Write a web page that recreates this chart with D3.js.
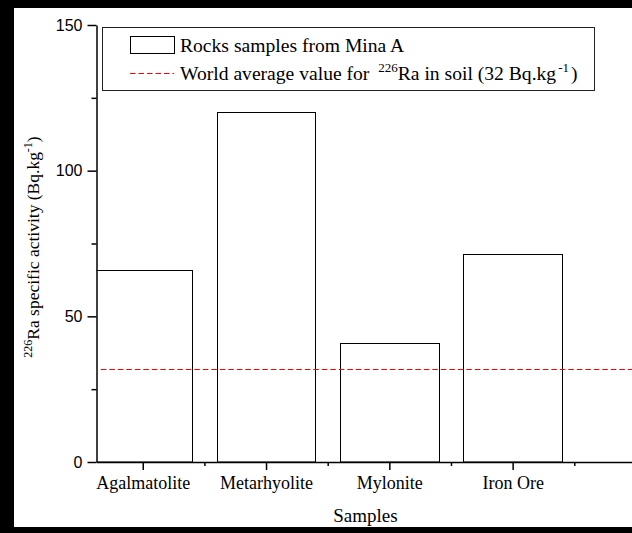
<!DOCTYPE html>
<html>
<head>
<meta charset="utf-8">
<script src="https://cdn.jsdelivr.net/npm/d3@7"></script>
<style>
  body { margin: 0; background: #fff; }
  svg { display: block; }
</style>
</head>
<body>
<svg id="chart" width="632" height="533"></svg>
<script>
// values
const categories = ["Agalmatolite", "Metarhyolite", "Mylonite", "Iron Ore"];
const activity = [66, 120, 41, 71.5];
const worldAverage = 32;
const yTicks = [0, 50, 100, 150];
const yMinorTicks = [25, 75, 125];
const xMinorTicks = [1.5, 2.5, 3.5, 4.5];

const SERIF = "'Liberation Serif', 'Times New Roman', serif";
const SANS = "'Liberation Sans', Arial, sans-serif";

const svg = d3.select("#chart");
const W = 632, H = 533;

svg.append("rect").attr("width", W).attr("height", H).attr("fill", "#fff");

// frame (right side is cut off in the original)
svg.append("rect").attr("x", 0).attr("y", 0).attr("width", 14).attr("height", H).attr("fill", "#000");
svg.append("rect").attr("x", 0).attr("y", 0).attr("width", W).attr("height", 8).attr("fill", "#000");
svg.append("rect").attr("x", 0).attr("y", 527).attr("width", W).attr("height", 6).attr("fill", "#000");

const x = d3.scaleLinear()
  .domain([0.625, 5.3])
  .range([96.5, 96.5 + (5.3 - 0.625) * 123.3]);

const y = d3.scaleLinear()
  .domain([0, 150])
  .range([462, 25]);

svg.append("clipPath").attr("id", "plot")
  .append("rect").attr("x", 96.5).attr("y", 0).attr("width", 700).attr("height", 470);

// bars
svg.append("g")
  .attr("clip-path", "url(#plot)")
  .selectAll("rect")
  .data(activity)
  .join("rect")
    .attr("x", (d, i) => Math.round(x(i + 1 - 0.4)) + 0.5)
    .attr("width", (d, i) => Math.round(x(i + 1 + 0.4)) - Math.round(x(i + 1 - 0.4)))
    .attr("y", d => Math.round(y(d)) + 0.5)
    .attr("height", d => y(0) - Math.round(y(d)) - 0.5)
    .attr("fill", "none")
    .attr("stroke", "#000")
    .attr("stroke-width", 1);

// world average line
svg.append("line")
  .attr("x1", x(0.66)).attr("x2", W)
  .attr("y1", Math.round(y(worldAverage)) + 0.5)
  .attr("y2", Math.round(y(worldAverage)) + 0.5)
  .style("stroke", "rgb(255,0,0)")
  .attr("stroke-width", 1.2)
  .attr("stroke-dasharray", "5.5,3");

// y axis
const yAxis = svg.append("g")
  .attr("transform", "translate(96.5,0)")
  .call(d3.axisLeft(y).tickValues(yTicks).tickSize(9).tickSizeOuter(0).tickPadding(5));
svg.append("g")
  .attr("transform", "translate(96.5,0)")
  .call(d3.axisLeft(y).tickValues(yMinorTicks).tickSize(5).tickFormat(""))
  .call(g => g.select(".domain").remove());

// x axis
const xAxis = svg.append("g")
  .attr("transform", "translate(0,462)")
  .call(d3.axisBottom(x).tickValues([1, 2, 3, 4]).tickSize(8).tickSizeOuter(0).tickPadding(6)
    .tickFormat(d => categories[d - 1]));
svg.append("g")
  .attr("transform", "translate(0,462)")
  .call(d3.axisBottom(x).tickValues(xMinorTicks).tickSize(4).tickFormat(""))
  .call(g => g.select(".domain").remove());

svg.selectAll(".domain, .tick line").attr("stroke", "#000").attr("stroke-width", 1.5);
yAxis.selectAll("text")
  .attr("font-family", SANS)
  .attr("font-size", 16)
  .attr("fill", "#000");
xAxis.selectAll("text")
  .attr("font-family", SERIF)
  .attr("font-size", 18)
  .attr("fill", "#000");

// axis titles
svg.append("text")
  .attr("font-family", SERIF)
  .attr("x", 365.5).attr("y", 522)
  .attr("text-anchor", "middle")
  .attr("font-size", 19)
  .text("Samples");

const yTitle = svg.append("text")
  .attr("font-family", SERIF)
  .attr("transform", "translate(39,247) rotate(-90)")
  .attr("text-anchor", "middle")
  .attr("font-size", 17.5);
yTitle.append("tspan").attr("font-size", 12).attr("dy", -7).text("226");
yTitle.append("tspan").attr("dy", 7).text("Ra specific activity (Bq.kg");
yTitle.append("tspan").attr("font-size", 12).attr("dy", -7).text("-1");
yTitle.append("tspan").attr("dy", 7).text(")");

// legend
const legend = svg.append("g");
legend.append("rect")
  .attr("x", 102.5).attr("y", 27.5).attr("width", 492).attr("height", 63)
  .attr("fill", "#fff").attr("stroke", "#222").attr("stroke-width", 1);
legend.append("rect")
  .attr("x", 130.5).attr("y", 36.5).attr("width", 44).attr("height", 17)
  .attr("fill", "none").attr("stroke", "#000").attr("stroke-width", 1);
legend.append("text")
  .attr("font-family", SERIF)
  .attr("x", 180).attr("y", 52)
  .attr("font-size", 19.6)
  .text("Rocks samples from Mina A");
legend.append("line")
  .attr("x1", 130).attr("x2", 174)
  .attr("y1", 73.5).attr("y2", 73.5)
  .style("stroke", "rgb(255,0,0)").attr("stroke-width", 1.2)
  .attr("stroke-dasharray", "5.5,3");
const wl = legend.append("text")
  .attr("font-family", SERIF)
  .attr("x", 180).attr("y", 80)
  .attr("font-size", 19.6);
wl.append("tspan").text("World average value for ");
wl.append("tspan").attr("font-size", 13).attr("dx", 4).attr("dy", -8).text("226");
wl.append("tspan").attr("dy", 8).text("Ra in soil (32 Bq.kg");
wl.append("tspan").attr("font-size", 13).attr("dx", 2).attr("dy", -8).text("-1");
wl.append("tspan").attr("dx", 2).attr("dy", 8).text(")");
</script>
</body>
</html>
